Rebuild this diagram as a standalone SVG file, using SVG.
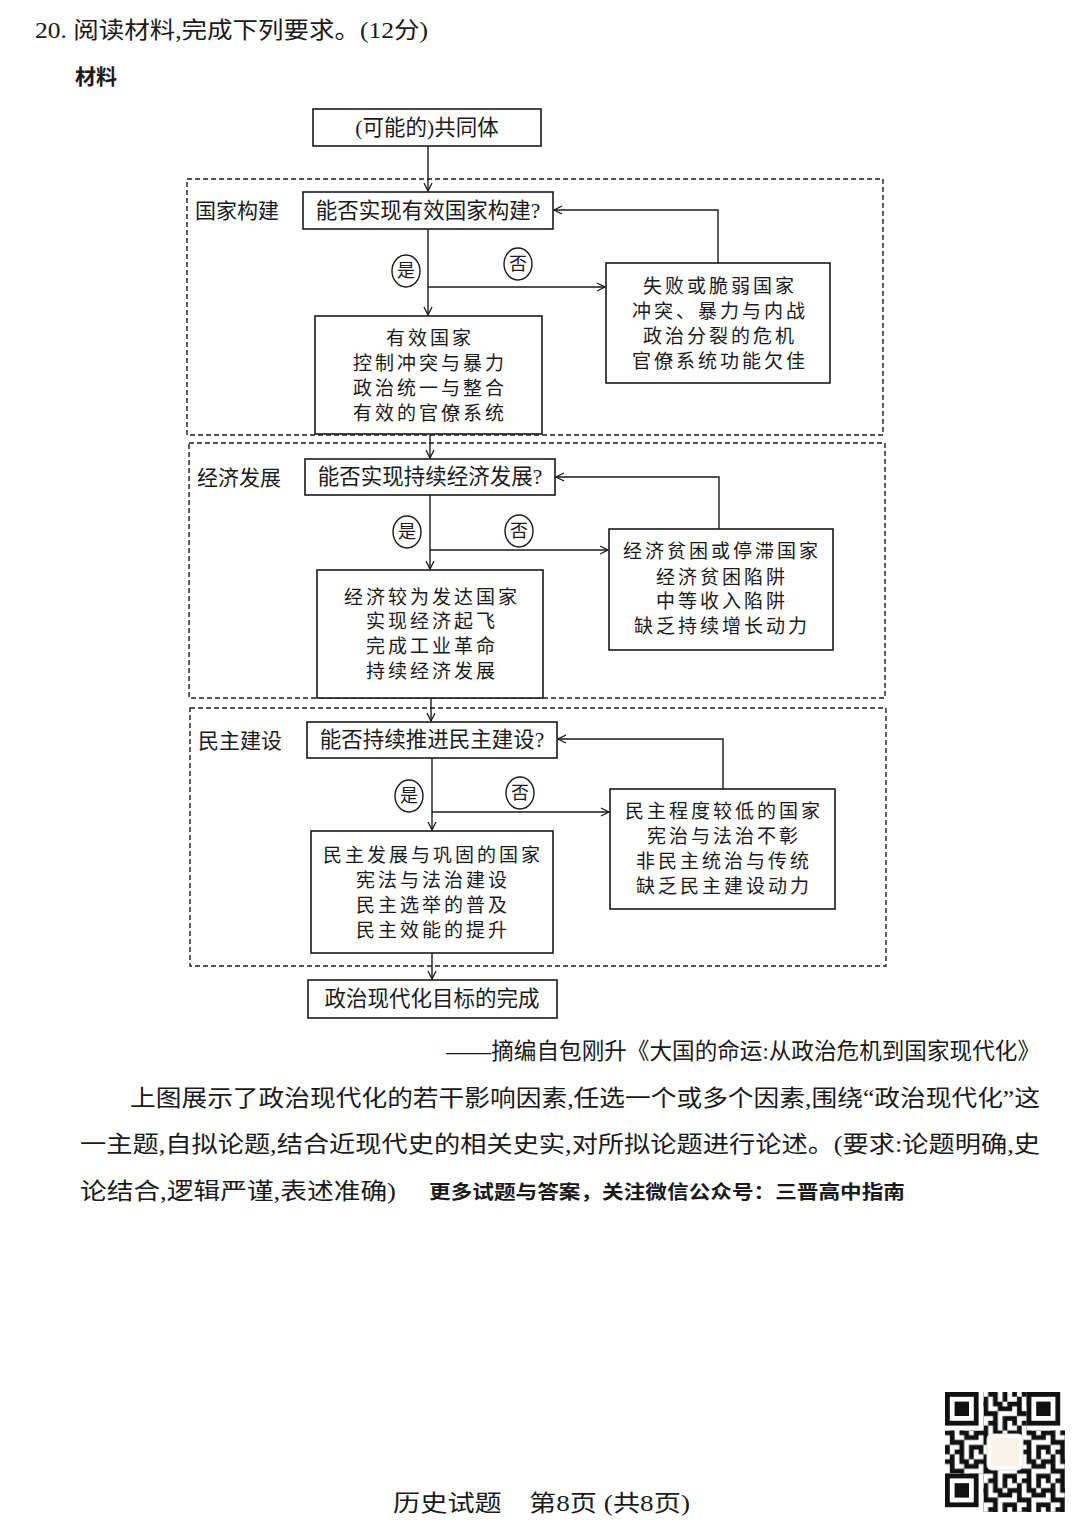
<svg xmlns="http://www.w3.org/2000/svg" width="1080" height="1528" viewBox="0 0 1080 1528">
<defs>
<style>
.t{font-family:"Liberation Serif","Noto Sans CJK SC",serif;fill:#1a1a1a}
.box{fill:#fff;stroke:#1a1a1a;stroke-width:1.6}
.sec{fill:none;stroke:#1a1a1a;stroke-width:1.4;stroke-dasharray:5 3}
.ln{fill:none;stroke:#1a1a1a;stroke-width:1.4}
.q{font-size:21.5px;text-anchor:middle;dominant-baseline:central}
.c{font-size:19px;letter-spacing:3px;text-anchor:middle;dominant-baseline:central}
.lab{font-size:21px;dominant-baseline:central}
.yn{font-size:18px;text-anchor:middle;dominant-baseline:central}
.p{font-size:23px}
</style>
<marker id="ar" markerWidth="10" markerHeight="10" refX="9" refY="5" orient="auto" markerUnits="userSpaceOnUse">
<path d="M1,1 L9,5 L1,9" fill="none" stroke="#1a1a1a" stroke-width="1.3"/>
</marker>
<pattern id="qr" x="945" y="1392" width="33.6" height="28.8" patternUnits="userSpaceOnUse">
<path d="M0,0h4.8v4.8h-4.8z M9.6,0h9.6v4.8h-9.6z M24,0h4.8v9.6h-4.8z M4.8,4.8h4.8v4.8h-4.8z M14.4,4.8h4.8v9.6h-4.8z M0,9.6h9.6v4.8h-9.6z M19.2,9.6h4.8v4.8h-4.8z M28.8,9.6h4.8v9.6h-4.8z M4.8,14.4h4.8v9.6h-4.8z M9.6,19.2h9.6v4.8h-9.6z M24,14.4h4.8v4.8h-4.8z M0,24h4.8v4.8h-4.8z M14.4,24h4.8v4.8h-4.8z M24,24h9.6v4.8h-9.6z M19.2,14.4h4.8v4.8h-4.8z" fill="#111"/>
</pattern>
</defs>
<rect width="1080" height="1528" fill="#fff"/>

<!-- header -->
<text class="t" x="35" y="38" font-size="23" textLength="393" lengthAdjust="spacingAndGlyphs">20. 阅读材料,完成下列要求。(12分)</text>
<text class="t" x="75" y="84" font-size="21" font-weight="bold" style="font-family:'Noto Sans CJK SC',sans-serif">材料</text>

<!-- sections -->
<g id="sections">
<rect class="sec" x="187" y="179" width="696" height="256"/>
<rect class="sec" x="189" y="443" width="696" height="255"/>
<rect class="sec" x="190" y="708" width="696" height="258"/>
<text class="t lab" x="195" y="211">国家构建</text>
<text class="t lab" x="197" y="478">经济发展</text>
<text class="t lab" x="198" y="741">民主建设</text>
</g>

<!-- connectors -->
<g id="connectors">
<line class="ln" x1="428" y1="146" x2="428" y2="191" marker-end="url(#ar)"/>
<line class="ln" x1="428" y1="229" x2="428" y2="315" marker-end="url(#ar)"/>
<line class="ln" x1="428" y1="287" x2="605" y2="287" marker-end="url(#ar)"/>
<polyline class="ln" points="718,263 718,210 554,210" marker-end="url(#ar)"/>
<line class="ln" x1="430" y1="434" x2="430" y2="458" marker-end="url(#ar)"/>
<line class="ln" x1="430" y1="495" x2="430" y2="569" marker-end="url(#ar)"/>
<line class="ln" x1="430" y1="550" x2="608" y2="550" marker-end="url(#ar)"/>
<polyline class="ln" points="719,529 719,477 556,477" marker-end="url(#ar)"/>
<line class="ln" x1="431" y1="698" x2="431" y2="721" marker-end="url(#ar)"/>
<line class="ln" x1="432" y1="758" x2="432" y2="830" marker-end="url(#ar)"/>
<line class="ln" x1="432" y1="812" x2="609" y2="812" marker-end="url(#ar)"/>
<polyline class="ln" points="723,790 723,739 558,739" marker-end="url(#ar)"/>
<line class="ln" x1="432" y1="953" x2="432" y2="979" marker-end="url(#ar)"/>
<g id="yn-labels">
<ellipse cx="406" cy="271" rx="14" ry="16" class="ln"/><text class="t yn" x="406" y="271">是</text>
<ellipse cx="518" cy="264" rx="14" ry="16" class="ln"/><text class="t yn" x="518" y="264">否</text>
<ellipse cx="407" cy="532" rx="14" ry="16" class="ln"/><text class="t yn" x="407" y="532">是</text>
<ellipse cx="519" cy="531" rx="14" ry="16" class="ln"/><text class="t yn" x="519" y="531">否</text>
<ellipse cx="409" cy="796" rx="14" ry="16" class="ln"/><text class="t yn" x="409" y="796">是</text>
<ellipse cx="520" cy="793" rx="14" ry="16" class="ln"/><text class="t yn" x="520" y="793">否</text>
</g>
</g>

<!-- nodes -->
<g id="n-start"><rect class="box" x="313" y="109" width="228" height="37"/><text class="t q" x="427" y="128">(可能的)共同体</text></g>

<g id="n-q1"><rect class="box" x="303" y="192" width="250" height="37"/><text class="t q" x="428" y="211">能否实现有效国家构建?</text></g>
<g id="n-yes1"><rect class="box" x="315" y="316" width="227" height="118"/>
<text class="t c" x="430" y="338">有效国家</text>
<text class="t c" x="430" y="363">控制冲突与暴力</text>
<text class="t c" x="430" y="388">政治统一与整合</text>
<text class="t c" x="430" y="413">有效的官僚系统</text></g>
<g id="n-no1"><rect class="box" x="606" y="263" width="224" height="120"/>
<text class="t c" x="720" y="286">失败或脆弱国家</text>
<text class="t c" x="720" y="311">冲突、暴力与内战</text>
<text class="t c" x="720" y="336">政治分裂的危机</text>
<text class="t c" x="720" y="361">官僚系统功能欠佳</text></g>

<g id="n-q2"><rect class="box" x="305" y="459" width="250" height="36"/><text class="t q" x="430" y="477">能否实现持续经济发展?</text></g>
<g id="n-yes2"><rect class="box" x="317" y="570" width="226" height="128"/>
<text class="t c" x="432" y="597">经济较为发达国家</text>
<text class="t c" x="432" y="621">实现经济起飞</text>
<text class="t c" x="432" y="646">完成工业革命</text>
<text class="t c" x="432" y="671">持续经济发展</text></g>
<g id="n-no2"><rect class="box" x="609" y="529" width="224" height="121"/>
<text class="t c" x="722" y="551">经济贫困或停滞国家</text>
<text class="t c" x="722" y="577">经济贫困陷阱</text>
<text class="t c" x="722" y="601">中等收入陷阱</text>
<text class="t c" x="722" y="626">缺乏持续增长动力</text></g>

<g id="n-q3"><rect class="box" x="307" y="722" width="250" height="36"/><text class="t q" x="432" y="740">能否持续推进民主建设?</text></g>
<g id="n-yes3"><rect class="box" x="311" y="831" width="242" height="122"/>
<text class="t c" x="433" y="855">民主发展与巩固的国家</text>
<text class="t c" x="433" y="880">宪法与法治建设</text>
<text class="t c" x="433" y="905">民主选举的普及</text>
<text class="t c" x="433" y="930">民主效能的提升</text></g>
<g id="n-no3"><rect class="box" x="610" y="789" width="225" height="120"/>
<text class="t c" x="724" y="811">民主程度较低的国家</text>
<text class="t c" x="724" y="836">宪治与法治不彰</text>
<text class="t c" x="724" y="861">非民主统治与传统</text>
<text class="t c" x="724" y="886">缺乏民主建设动力</text></g>

<g id="n-end"><rect class="box" x="308" y="980" width="249" height="38"/><text class="t q" x="432" y="999">政治现代化目标的完成</text></g>

<!-- text below -->
<text class="t p" x="446" y="1059" textLength="594" lengthAdjust="spacingAndGlyphs">——摘编自包刚升《大国的命运:从政治危机到国家现代化》</text>
<text class="t p" x="130" y="1106" textLength="910" lengthAdjust="spacingAndGlyphs">上图展示了政治现代化的若干影响因素,任选一个或多个因素,围绕“政治现代化”这</text>
<text class="t p" x="80" y="1152" textLength="960" lengthAdjust="spacingAndGlyphs">一主题,自拟论题,结合近现代史的相关史实,对所拟论题进行论述。(要求:论题明确,史</text>
<text class="t p" x="80" y="1199" textLength="316" lengthAdjust="spacingAndGlyphs">论结合,逻辑严谨,表述准确)</text>
<text x="429" y="1199" font-size="19" font-weight="bold" textLength="476" lengthAdjust="spacingAndGlyphs" style="font-family:'Noto Sans CJK SC',sans-serif;fill:#1a1a1a">更多试题与答案，关注微信公众号：三晋高中指南</text>

<!-- QR code -->
<g id="qrcode">
<rect x="945" y="1392" width="120" height="120" fill="url(#qr)"/>
<g fill="#fff"><rect x="945" y="1392" width="38.4" height="38.4"/><rect x="1026.6" y="1392" width="38.4" height="38.4"/><rect x="945" y="1473.6" width="38.4" height="38.4"/></g>
<g fill="none" stroke="#111" stroke-width="4.8">
<rect x="947.4" y="1394.4" width="28.8" height="28.8"/>
<rect x="1029" y="1394.4" width="28.8" height="28.8"/>
<rect x="947.4" y="1476" width="28.8" height="28.8"/>
</g>
<g fill="#111">
<rect x="954.6" y="1401.6" width="14.4" height="14.4"/>
<rect x="1036.2" y="1401.6" width="14.4" height="14.4"/>
<rect x="954.6" y="1483.2" width="14.4" height="14.4"/>
</g>
<rect x="987" y="1434" width="36" height="36" rx="5" fill="#fff" stroke="#ddd"/>
<rect x="991" y="1438" width="28" height="28" rx="3" fill="#fbf1e6"/>
</g>

<text class="t" x="393" y="1511" font-size="23" textLength="297" lengthAdjust="spacingAndGlyphs">历史试题　第8页 (共8页)</text>
</svg>
